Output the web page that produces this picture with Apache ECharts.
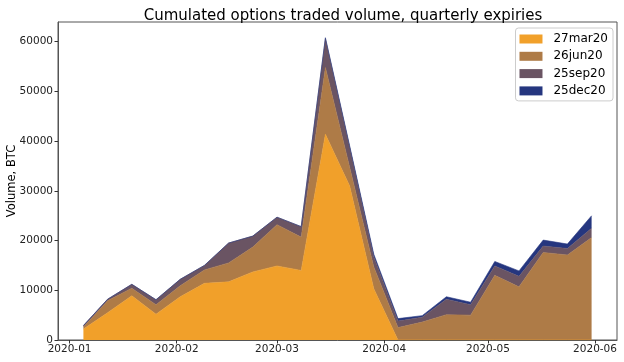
<!DOCTYPE html>
<html>
<head>
<meta charset="utf-8">
<script src="https://cdn.jsdelivr.net/npm/echarts@6/dist/echarts.min.js"></script>
<style>
html,body{margin:0;padding:0;background:#fff;}
#chart{width:624px;height:362px;}
</style>
</head>
<body>
<div id="chart"></div>
<script>
// ---- data ----
var dates = ['2020-01-05','2020-01-12','2020-01-19','2020-01-26','2020-02-02','2020-02-09','2020-02-16','2020-02-23',
             '2020-03-01','2020-03-08','2020-03-15','2020-03-22','2020-03-29','2020-04-05','2020-04-12','2020-04-19',
             '2020-04-26','2020-05-03','2020-05-10','2020-05-17','2020-05-24','2020-05-31'];
var seriesNames = ['27mar20','26jun20','25sep20','25dec20'];
var mar20 = [2200,5500,8900,5200,8700,11400,11700,13700,14900,14000,41400,31000,10300,0,0,0,0,0,0,0,0,0];
var jun20 = [400,2400,1500,1900,2200,2700,3800,5000,8300,6700,13400,3800,4400,2500,3600,5100,5000,13000,10700,17600,17100,20600];
var sep20 = [300,300,800,1000,1300,900,4000,2200,1500,2100,5800,4000,2050,1300,1000,3100,2100,1900,2100,1300,1300,1900];
var dec20 = [0,0,0,0,0,0,0,0,0,0,200,300,500,500,300,500,500,900,1100,1200,900,2500];
var xTickLabels = ['2020-01','2020-02','2020-03','2020-04','2020-05','2020-06'];
var yTicks = [0,10000,20000,30000,40000,50000,60000];

function toTime(s){ var p = s.split('-'); return new Date(+p[0], +p[1]-1, +(p[2]||1)).getTime(); }
var xTickValues = xTickLabels.map(function(s){ return toTime(s + '-01'); });
var colors = ['#F1A02A','#AE7B47','#6A5463','#25367F'];
var allSeries = [mar20, jun20, sep20, dec20];

var t0 = toTime(dates[0]), t1 = toTime(dates[dates.length-1]);
var pad = (t1 - t0) * 0.05;

var chart = echarts.init(document.getElementById('chart'), null, {renderer:'canvas'});
var font = 'DejaVu Sans';
chart.setOption({
  animation: false,
  backgroundColor: '#fff',
  title: {
    text: 'Cumulated options traded volume, quarterly expiries',
    left: 338, top: 4, textAlign: 'center',
    textStyle: {fontFamily: font, fontSize: 15, fontWeight: 'normal', color: '#000'}
  },
  legend: {
    orient: 'vertical', right: 11, top: 28,
    padding: [4, 5, 3, 4],
    itemWidth: 23, itemHeight: 9, itemGap: 3.3,
    icon: 'rect',
    backgroundColor: 'rgba(255,255,255,0.8)',
    borderColor: '#cccccc', borderWidth: 1, borderRadius: 3,
    textStyle: {fontFamily: font, fontSize: 12, color: '#000', lineHeight: 14, padding: [0,0,0,6]},
    data: seriesNames
  },
  grid: {left: 58, top: 22, right: 7, bottom: 22, show: true, borderColor: '#555', borderWidth: 1,
         containLabel: false, outerBoundsMode: 'none'},
  xAxis: {
    type: 'time', min: t0 - pad, max: t1 + pad, splitNumber: 5,
    axisLine: {show: true, lineStyle: {color: '#555', width: 1}},
    axisTick: {show: true, inside: false, length: 3.5, lineStyle: {color: '#333'}},
    axisLabel: {show: true, fontFamily: font, fontSize: 10.5, color: '#222', margin: 4,
      hideOverlap: false, showMinLabel: false, showMaxLabel: false,
      formatter: function(v){ var i = xTickValues.indexOf(v); return i >= 0 ? xTickLabels[i] : ''; }},
    splitLine: {show: false}
  },
  yAxis: {
    type: 'value', min: 0, max: 63960,
    name: 'Volume, BTC', nameLocation: 'middle', nameRotate: 90, nameGap: 40, nameMoveOverlap: false,
    nameTextStyle: {fontFamily: font, fontSize: 11.5, color: '#000'},
    axisLine: {show: true, lineStyle: {color: '#555', width: 1}},
    axisTick: {show: true, length: 3.5, lineStyle: {color: '#333'}, customValues: yTicks},
    axisLabel: {fontFamily: font, fontSize: 10.5, color: '#222', margin: 5, customValues: yTicks,
      formatter: function(v){ return String(v); }},
    splitLine: {show: false}
  },
  series: seriesNames.map(function(n, k){
    return {
      name: n, type: 'line', stack: 'total', symbol: 'none',
      color: colors[k],
      lineStyle: {width: 0.6, color: colors[k]},
      areaStyle: {color: colors[k], opacity: 1},
      data: dates.map(function(d, i){ return [toTime(d), allSeries[k][i]]; })
    };
  })
});
</script>
</body>
</html>
